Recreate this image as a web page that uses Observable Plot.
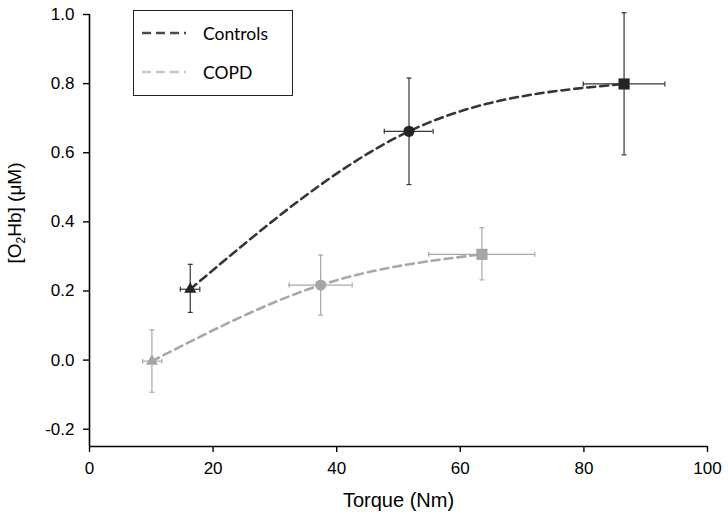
<!DOCTYPE html>
<html><head><meta charset="utf-8">
<script src="https://cdn.jsdelivr.net/npm/d3@7"></script>
<script src="https://cdn.jsdelivr.net/npm/@observablehq/plot@0.6"></script>
<style>
body{margin:0;background:#fff;}
#wrap{position:relative;width:728px;height:518px;font-family:"Liberation Sans",Arial,sans-serif;}
#wrap svg [aria-label$='tick label'] text{font-size:17px;}
#ylab{position:absolute;left:15px;top:213px;transform:translate(-50%,-50%) rotate(-90deg);font-size:19px;white-space:nowrap;color:#000;}
#ylab sub{font-size:12px;vertical-align:-4px;line-height:0;}
#legend{position:absolute;left:133px;top:10px;width:158px;height:84px;border:1.3px solid #222;background:#fff;font-family:Lato,"Open Sans",sans-serif;font-size:17.5px;color:#000;}
.lrow{position:absolute;left:0;height:22px;display:flex;align-items:center;}
.lrow svg{margin-left:8px;margin-right:17px;}
</style></head><body>
<div id="wrap"></div>
<script>
// Data
const groups = ["Controls", "COPD"];
const markerSymbols = ["triangle", "circle", "square"];

const controlsTorque   = [16.3, 51.7, 86.5];
const controlsTorqueLo = [14.7, 47.7, 79.9];
const controlsTorqueHi = [17.85, 55.6, 93.1];
const controlsO2Hb     = [0.205, 0.662, 0.799];
const controlsO2HbLo   = [0.138, 0.508, 0.594];
const controlsO2HbHi   = [0.277, 0.816, 1.005];

const copdTorque   = [10.1, 37.4, 63.5];
const copdTorqueLo = [8.6, 32.3, 54.9];
const copdTorqueHi = [11.7, 42.5, 72.05];
const copdO2Hb     = [-0.003, 0.217, 0.306];
const copdO2HbLo   = [-0.093, 0.130, 0.232];
const copdO2HbHi   = [0.087, 0.304, 0.383];

const xTicks = [0, 20, 40, 60, 80, 100];
const yTicks = [-0.2, 0, 0.2, 0.4, 0.6, 0.8, 1.0];
const xDomain = [0, 100];
const yDomain = [-0.25, 1.0];

const colors = {Controls: "#363636", COPD: "#a8a8a8"};
const markerColors = {Controls: "#242424", COPD: "#a6a6a6"};
const legendColors = {Controls: "#4a4a4a", COPD: "#c8c8c8"};

function rows(group, t, tlo, thi, v, vlo, vhi) {
  return t.map((d, i) => ({group, symbol: markerSymbols[i], x: d, xlo: tlo[i], xhi: thi[i], y: v[i], ylo: vlo[i], yhi: vhi[i]}));
}
const data = [
  ...rows("Controls", controlsTorque, controlsTorqueLo, controlsTorqueHi, controlsO2Hb, controlsO2HbLo, controlsO2HbHi),
  ...rows("COPD", copdTorque, copdTorqueLo, copdTorqueHi, copdO2Hb, copdO2HbLo, copdO2HbHi)
];

const hcap = {draw(ctx, size) { const r = Math.sqrt(size) / 2; ctx.moveTo(-r, 0); ctx.lineTo(r, 0); }};
const vcap = {draw(ctx, size) { const r = Math.sqrt(size) / 2; ctx.moveTo(0, -r); ctx.lineTo(0, r); }};

const marks = [];
for (const g of ["COPD", "Controls"]) {
  const d = data.filter(r => r.group === g);
  const c = colors[g];
  marks.push(
    Plot.line(d, {x: "x", y: "y", curve: "natural", stroke: c, strokeWidth: 2.6, strokeDasharray: "8,5"}),
    Plot.ruleX(d, {x: "x", y1: "ylo", y2: "yhi", stroke: c, strokeWidth: 1.2}),
    Plot.ruleY(d, {y: "y", x1: "xlo", x2: "xhi", stroke: c, strokeWidth: 1.2}),
    Plot.dot(d, {x: "x", y: "ylo", symbol: hcap, r: 2.8, stroke: c, strokeWidth: 1.2, fill: "none"}),
    Plot.dot(d, {x: "x", y: "yhi", symbol: hcap, r: 2.8, stroke: c, strokeWidth: 1.2, fill: "none"}),
    Plot.dot(d, {x: "xlo", y: "y", symbol: vcap, r: 2.8, stroke: c, strokeWidth: 1.2, fill: "none"}),
    Plot.dot(d, {x: "xhi", y: "y", symbol: vcap, r: 2.8, stroke: c, strokeWidth: 1.2, fill: "none"}),
    Plot.dot(d.filter(r => r.symbol === "triangle"), {x: "x", y: "y", symbol: "triangle", r: 4.5, fill: markerColors[g], stroke: "none"}),
    Plot.dot(d.filter(r => r.symbol === "circle"), {x: "x", y: "y", symbol: "circle", r: 5.6, fill: markerColors[g], stroke: "none"}),
    Plot.dot(d.filter(r => r.symbol === "square"), {x: "x", y: "y", symbol: "square", r: 6.3, fill: markerColors[g], stroke: "none"})
  );
}

const chart = Plot.plot({
  width: 728,
  height: 518,
  marginLeft: 89,
  marginRight: 21,
  marginTop: 14,
  marginBottom: 72,
  style: {fontFamily: "'Liberation Sans', Arial, sans-serif", fontSize: "17px", color: "#000", background: "#fff"},
  x: {domain: xDomain},
  y: {domain: yDomain},
  marks: [
    Plot.axisX({ticks: xTicks, tickSize: 6, tickPadding: 9, fontSize: 17, stroke: "#000", strokeWidth: 1.4,
      label: "Torque (Nm)", labelAnchor: "center", labelOffset: 60, labelArrow: false}),
    Plot.axisY({ticks: yTicks, tickSize: 6, tickPadding: 9, fontSize: 17, stroke: "#000", strokeWidth: 1.4,
      tickFormat: d => d.toFixed(1), label: null}),
    Plot.ruleY([yDomain[0]], {x1: xDomain[0], x2: xDomain[1], stroke: "#000", strokeWidth: 1.6}),
    Plot.ruleX([xDomain[0]], {y1: yDomain[0], y2: yDomain[1], stroke: "#000", strokeWidth: 1.6}),
    ...marks
  ]
});
chart.querySelectorAll("[aria-label$='tick label']").forEach(e => e.setAttribute("font-size", 17));
chart.querySelectorAll("[aria-label='x-axis label'] text, [aria-label='x-axis label']").forEach(e => e.setAttribute("font-size", 20));
const wrap = document.getElementById("wrap");
wrap.appendChild(chart);

const ylab = document.createElement("div");
ylab.id = "ylab";
ylab.innerHTML = "[O<sub>2</sub>Hb] (\u03bcM)";
wrap.appendChild(ylab);

const legend = document.createElement("div");
legend.id = "legend";
groups.forEach((g, i) => {
  const row = document.createElement("div");
  row.className = "lrow";
  row.style.top = (i === 0 ? 11 : 50) + "px";
  row.innerHTML = `<svg width="44" height="6"><line x1="0" y1="3" x2="44" y2="3" stroke="${legendColors[g]}" stroke-width="2.6" stroke-dasharray="9,5"/></svg><span>${g}</span>`;
  legend.appendChild(row);
});
wrap.appendChild(legend);
</script>
</body></html>
